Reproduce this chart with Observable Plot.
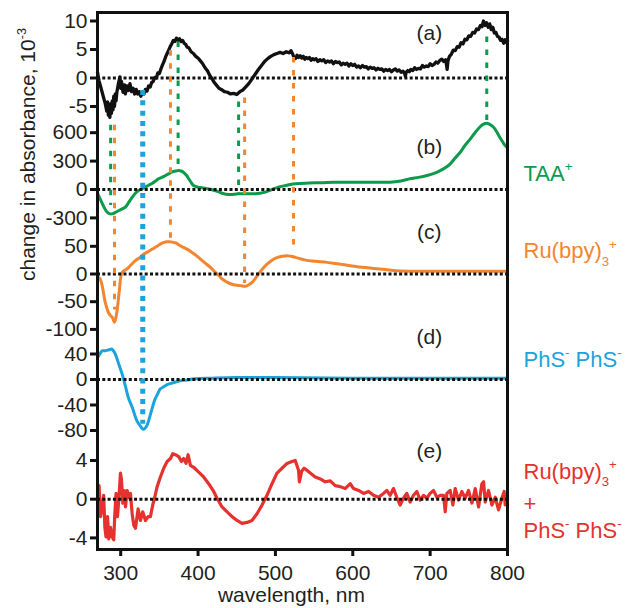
<!DOCTYPE html>
<html><head><meta charset="utf-8">
<script src="https://cdn.jsdelivr.net/npm/d3@7"></script>
<script src="https://cdn.jsdelivr.net/npm/@observablehq/plot@0.6"></script>
<style>
html,body{margin:0;padding:0;background:#fff;}
#chart{width:626px;height:608px;overflow:hidden;}
</style></head><body><div id="chart"></div>
<script>
// ---------- data (wavelength nm, change in absorbance x10^-3) ----------
const wavelengthTicks = [300, 400, 500, 600, 700, 800];

const ticksA = [10, 5, 0, -5];
const ticksB = [600, 300, 0, -300];
const ticksC = [50, 0, -50, -100];
const ticksD = [40, 0, -40, -80];
const ticksE = [4, 0, -4];

// (a) measured difference spectrum (black)
const spectrumA = [
[270,1.0],[272,-0.5],[274,-1.5],[276,-2.5],[278,-3.5],[280,-4.5],[282,-5.8],[283,-4.2],[284,-6.5],[285,-5.0],
[286,-6.9],[287,-4.5],[288,-6.2],[289,-4.0],[290,-5.6],[291,-3.2],[292,-5.0],[293,-2.8],[294,-4.0],[295,-2.5],
[297,-1.0],[299,0.2],[300,-1.8],[301,-0.6],[303,-2.5],[305,-1.2],[306,-2.8],[308,-1.4],[310,-2.2],[312,-1.0],
[314,-2.4],[316,-1.8],[318,-2.8],[320,-2.0],[322,-2.8],[324,-2.4],[326,-3.2],[328,-2.6],[330,-2.8],[332,-2.0],
[334,-2.3],[336,-1.4],[338,-1.6],[340,-0.8],[342,-0.6],[344,0.1],[346,0.0],[348,0.9],[350,0.8],[352,1.6],
[354,2.3],[356,2.9],[358,3.7],[360,4.3],[362,4.9],[364,5.5],[366,6.0],[368,6.6],[370,6.4],[372,7.0],
[374,6.6],[376,6.9],[378,6.4],[380,6.6],[382,6.1],[384,5.9],[386,5.4],[388,5.3],[391,4.6],[394,4.3],
[397,3.8],[400,3.5],[403,3.0],[406,2.5],[409,1.8],[412,1.3],[415,0.5],[418,-0.1],[421,-0.8],[424,-1.3],
[427,-1.8],[430,-2.0],[434,-2.4],[438,-2.5],[442,-2.8],[446,-2.7],[450,-2.9],[454,-2.4],[458,-2.1],[462,-1.5],
[466,-0.9],[470,-0.1],[474,0.7],[478,1.5],[482,2.2],[486,2.9],[490,3.4],[494,3.8],[498,4.1],[502,4.3],
[506,4.5],[510,4.3],[514,4.6],[518,4.4],[520,4.8],[522,4.3],[524,3.6],[526,3.4],[528,4.0],[530,3.6],
[532,3.9],[534,3.5],[536,3.8],[538,3.3],[540,3.6],[542,3.4],[544,3.6],[546,3.1],[548,3.4],[550,3.2],
[552.5,3.4],[555,2.9],[557.5,3.2],[560,3.0],[562.5,3.2],[565,2.7],[567.5,3.0],[570,2.8],[572.5,3.0],[575,2.5],
[577.5,2.9],[580,2.7],[582.5,2.8],[585,2.3],[587.5,2.6],[590,2.4],[592.5,2.6],[595,2.1],[597.5,2.5],[600,2.2],
[602.5,2.4],[605,1.9],[607.5,2.1],[610,1.8],[612.5,2.2],[615,1.9],[617.5,2.0],[620,1.6],[622.5,1.9],[625,1.7],
[627.5,1.8],[630,1.4],[632.5,1.7],[635,1.5],[637.5,1.6],[640,1.2],[642.5,1.5],[645,1.3],[647.5,1.5],[650,1.1],
[652.5,1.4],[655,1.6],[657.5,1.2],[660,1.4],[662.5,1.0],[665,1.2],[667,0.8],[668,0.3],[669,1.0],[671,1.3],
[673,1.1],[675,1.5],[677.5,1.3],[680,1.8],[682.5,1.5],[685,1.7],[687.5,1.6],[690,2.2],[692.5,1.9],[695,2.1],
[697.5,2.0],[700,2.5],[702.5,2.2],[705,2.4],[707.5,2.8],[710,2.6],[712.5,3.1],[715,3.3],[717.5,2.9],[720,3.2],
[721,2.4],[722,1.5],[723,3.0],[725,3.8],[727.5,4.2],[730,4.9],[732.5,4.8],[735,5.5],[737.5,5.4],[740,6.2],
[742.5,6.0],[745,6.8],[747.5,6.7],[750,7.4],[752.5,7.3],[755,8.0],[757.5,7.9],[760,8.6],[762.5,8.5],[765,9.2],
[767,9.0],[769,10.0],[771,9.2],[773,9.7],[775,8.9],[777,9.5],[779,8.5],[781,8.9],[783,7.9],[785,8.0],
[787,7.3],[789,7.2],[791,6.6],[793,6.8],[795,6.1],[797,6.7],[799,6.2],[800,6.5]
];

// (b) TAA+ (green)
const spectrumB = [
[270,-40],[274,-110],[278,-180],[282,-235],[286,-258],[290,-255],[294,-238],[298,-222],[302,-205],[306,-187],
[310,-140],[315,-81],[319,-40],[323,-11],[328,10],[332,25],[336,45],[341,67],[345,90],[349,113],
[354,130],[358,148],[362,165],[366,183],[371,195],[375,200],[378,195],[381,183],[385,150],[388,113],
[391,75],[394,42],[400,25],[405,18],[412,8],[418,-3],[425,-20],[431,-39],[440,-53],[452,-45],
[463,-45],[474,-45],[480,-40],[487,-28],[493,-8],[500,14],[506,30],[513,42],[519,52],[526,60],
[539,67],[560,72],[575,77],[600,77],[625,77],[648,77],[662,90],[674,113],[685,128],[696,148],
[705,170],[713,200],[720,232],[726,271],[732,330],[739,394],[745,465],[752,535],[758,600],[764,658],
[769,690],[773,700],[777,688],[782,658],[786,610],[790,552],[794,500],[797,465],[800,440]
];

// (c) Ru(bpy)3+ (orange)
const spectrumC = [
[270,-5],[273,-8],[276,-21],[280,-51],[285,-72],[289,-78],[292,-87],[295,-69],[298,-33],[302,3],
[308,9],[313,16],[319,24],[325,30],[330,36],[335,40],[341,45],[346,49],[351,54],[356,57],
[360,58],[365,58],[371,56],[376,52],[381,48],[387,44],[392,39],[397,34],[403,27],[409,20],
[416,12],[421,5],[427,-3],[432,-10],[438,-15],[443,-18],[448,-20],[455,-21],[461,-22],[466,-19],
[470,-15],[474,-8],[478,0],[482,7],[487,15],[492,21],[498,27],[503,30],[509,32],[515,33],
[520,32],[526,30],[539,25],[552,23],[567,21],[582,18],[597,15],[612,12],[627,10],[642,8],
[657,6],[680,5],[704,5],[730,5],[760,5],[790,5],[800,5]
];

// (d) PhS- PhS- (blue)
const spectrumD = [
[270,34],[273,40],[276,45],[280,45],[283,46],[286,47],[288,48],[290,46],[293,40],[297,26],
[302,8],[306,-10],[310,-29],[315,-44],[321,-65],[326,-74],[329,-78],[331,-77],[334,-72],[336,-65],
[340,-48],[344,-32],[348,-22],[351,-15],[356,-11],[360,-8],[365,-6],[371,-4],[377,-2],[384,-1],
[396,1],[418,2],[448,3],[500,3],[600,2],[700,2],[800,2]
];

// (e) Ru(bpy)3+ + PhS- PhS- (red)
const spectrumE = [
[270,1.6],[271,0.5],[272,1.4],[274,-1.8],[276,-0.8],[278,0.4],[279.5,-2.9],[281,-3.9],[283,-1.8],[284.6,-4.1],
[286.8,-2.9],[289,-3.9],[291,-4.2],[292.4,-1.5],[294,0.6],[295.8,-1.8],[297.5,-0.1],[299.7,2.7],[301,2.0],[302.7,-0.4],
[304.4,0.9],[306.2,-0.8],[308.3,0.9],[310.5,0.2],[312.6,0.6],[314.8,-1.5],[316.9,-2.7],[319.1,-3.0],[322.5,-1.0],[325.5,-2.2],
[328.5,-1.3],[332,-2.2],[335.4,-1.8],[338.4,-1.8],[341.4,-0.6],[344,0.2],[347.1,1.3],[351.3,2.3],[355.6,3.2],[360,3.9],
[364.3,4.2],[367.3,4.7],[370.7,4.6],[375,4.4],[378.5,3.9],[381.4,4.2],[384.5,3.7],[387.1,4.6],[390.1,3.5],[394.3,3.3],
[400.8,2.8],[407.2,2.3],[413.7,1.6],[420.2,0.8],[424.5,0.1],[431,-0.8],[437.5,-1.3],[443.9,-1.8],[450.4,-2.2],[456.8,-2.5],
[463.3,-2.4],[469.7,-2.2],[476.2,-1.5],[482.7,-0.6],[489.1,0.4],[495.6,1.6],[502,2.7],[508.5,3.2],[515,3.7],[521.4,3.9],
[525.6,4.0],[529.9,3.0],[531,1.8],[534,2.9],[537,3.2],[539,3.1],[545,2.7],[551.5,2.3],[558,2.1],[564.4,1.8],
[570.9,1.9],[577.3,1.4],[583.8,1.3],[590.2,1.1],[596.7,1.6],[601,1.1],[607.5,0.9],[613.9,0.6],[620.4,0.8],[626.8,0.4],
[633.3,0.2],[639.7,0.6],[644,0.9],[648.3,0.4],[652.6,1.1],[656.9,0.2],[661.2,-0.6],[665.5,0.1],[669.8,0.6],[674.2,-0.3],
[678.5,0.4],[682.8,0.8],[687.1,-0.1],[691.4,0.4],[695.7,0.1],[700,0.6],[704.4,0.9],[708.7,0.2],[713,0.4],[717.3,0.4],
[719.5,-1.3],[721.6,0.6],[725.9,0.9],[729.4,-0.6],[732.4,1.1],[736.7,-0.1],[741,0.8],[745.3,0.1],[749.6,0.9],[754,-0.4],
[758.3,1.1],[762.6,-0.8],[766.9,1.6],[769.1,1.8],[771.2,-0.3],[775.5,0.9],[779.8,-0.6],[784.1,0.2],[788.4,-1.1],[792.7,0.1],
[795.7,0.8],[797,-0.6],[800,0.2]
];

// vertical guide lines linking features: [wavelength, from panel, from value, to panel, to value]
const greenGuides  = [[287,'a',-8.3,'b',-170],[374.2,'a',6.3,'b',220],[452.4,'a',-4.2,'b',-60],[773.2,'a',7.2,'b',720]];
const orangeGuides = [[292,'a',-8.3,'c',-65],[364.3,'a',4.8,'c',60],[460.2,'a',-3.5,'c',-17],[523.4,'a',3.6,'c',42]];
const blueGuides   = [[328.5,'a',-2.2,'d',-70]];

const panelNames = ['(a)','(b)','(c)','(d)','(e)'];
const seriesNames = ['TAA^{+}','Ru(bpy)_{3}^{+}','PhS^{-} PhS^{-}','Ru(bpy)_{3}^{+}','+','PhS^{-} PhS^{-}'];

// ---------- layout ----------
const colors = {black:'#111111', green:'#0c9b4a', orange:'#f3852f', blue:'#1ba3dd', red:'#e5322e'};
const panels = {
  a:{zero:471.5, k:5.7},
  b:{zero:360,   k:28.4/300},
  c:{zero:275.5, k:0.554},
  d:{zero:170,   k:0.6375},
  e:{zero:50.3,  k:9.675}
};
const place = (p, v) => panels[p].zero + panels[p].k * v;

const tickList = [];
[['a',ticksA],['b',ticksB],['c',ticksC],['d',ticksD],['e',ticksE]].forEach(([p, ts]) =>
  ts.forEach(t => tickList.push({pos: place(p, t), label: String(t)})));
const labelByPos = new Map(tickList.map(t => [t.pos, t.label]));

const panelLabelPos = [['a',7.8],['b',443],['c',75],['d',66],['e',4.93]];
const seriesLabelPos = [['b',95,'green'],['c',28,'orange'],['d',20,'blue'],['e',2.1,'red'],['e',-1.17,'red'],['e',-4.0,'red']];

const guideMarks = (list, color, width, dash) => Plot.ruleX(list, {
  x: d => d[0], y1: d => place(d[1], d[2]), y2: d => place(d[3], d[4]),
  stroke: color, strokeWidth: width, strokeDasharray: dash
});

const chart = Plot.plot({
  width: 626, height: 608,
  marginLeft: 97, marginRight: 119, marginTop: 12, marginBottom: 59,
  x: {domain: [270, 800]},
  y: {domain: [0, 537]},
  color: {type: 'identity'},
  style: {fontFamily: "'Liberation Sans', Arial, Helvetica, sans-serif", fontSize: "21px", color: "#231f20", background: "#fff", overflow: "visible"},
  marks: [
    Plot.line(spectrumB, {x: d => d[0], y: d => place('b', d[1]), stroke: colors.green, strokeWidth: 3, curve: 'catmull-rom'}),
    Plot.line(spectrumC, {x: d => d[0], y: d => place('c', d[1]), stroke: colors.orange, strokeWidth: 3, curve: 'catmull-rom'}),
    Plot.line(spectrumD, {x: d => d[0], y: d => place('d', d[1]), stroke: colors.blue, strokeWidth: 3, curve: 'catmull-rom'}),
    Plot.line(spectrumA, {x: d => d[0], y: d => place('a', d[1]), stroke: colors.black, strokeWidth: 3.3}),
    Plot.line(spectrumE, {x: d => d[0], y: d => place('e', d[1]), stroke: colors.red, strokeWidth: 3.2}),
    Plot.ruleY(['a','b','c','d','e'].map(p => place(p, 0)), {stroke: colors.black, strokeWidth: 3, strokeDasharray: '3,2.3'}),
    guideMarks(greenGuides, colors.green, 3, '5.5,7.5'),
    guideMarks(orangeGuides, colors.orange, 3, '5.5,7.5'),
    guideMarks(blueGuides, colors.blue, 5, '5,5.3'),
    Plot.frame({stroke: colors.black, strokeWidth: 3}),
    Plot.axisY(tickList.map(t => t.pos), {tickFormat: d => labelByPos.get(d), tickSize: 7, tickPadding: 3, strokeWidth: 3, fontSize: 21, label: null, stroke: colors.black}),
    Plot.axisX(wavelengthTicks, {tickFormat: d => String(d), tickSize: 7, tickPadding: 9, strokeWidth: 3, fontSize: 21, label: null, stroke: colors.black}),
    Plot.text(panelNames, {x: () => 699, y: (d, i) => place(panelLabelPos[i][0], panelLabelPos[i][1]), text: d => d, fontSize: 21, fill: '#231f20'}),
    Plot.text(seriesNames, {x: () => 800, dx: 16, y: (d, i) => place(seriesLabelPos[i][0], seriesLabelPos[i][1]),
      text: d => d, fill: (d, i) => colors[seriesLabelPos[i][2]], textAnchor: 'start', lineAnchor: 'bottom', fontSize: 22}),
    Plot.text(['change in absorbance, 10^{-3}'], {text: d => d, frameAnchor: 'left', dx: -69, rotate: -90, fontSize: 21, fill: '#231f20'}),
    Plot.text(['wavelength, nm'], {text: d => d, frameAnchor: 'bottom', dx: -11, dy: 52, lineAnchor: 'bottom', fontSize: 21, fill: '#231f20'})
  ]
});

document.getElementById('chart').appendChild(chart);

// turn ^{..} and _{..} markup into superscript / subscript tspans
function richify(el, base) {
  const s = el.textContent;
  const re = /([\^_])\{([^}]*)\}|([^\^_]+)/g;
  while (el.firstChild) el.removeChild(el.firstChild);
  let shift = 0, m;
  while ((m = re.exec(s))) {
    const t = document.createElementNS('http://www.w3.org/2000/svg', 'tspan');
    let target = 0;
    if (m[1] === '^') { target = -0.45 * base; t.setAttribute('font-size', base * 0.6); }
    else if (m[1] === '_') { target = 0.32 * base; t.setAttribute('font-size', base * 0.6); }
    t.textContent = m[1] ? m[2] : m[3];
    const dy = target - shift;
    if (dy) t.setAttribute('dy', dy);
    shift = target;
    el.appendChild(t);
  }
}
d3.select(chart).selectAll('text').each(function () {
  const s = this.textContent;
  if (s.includes('^{') || s.includes('_{')) {
    const base = parseFloat(getComputedStyle(this).fontSize) || 21;
    richify(this, base);
  }
});
</script></body></html>
